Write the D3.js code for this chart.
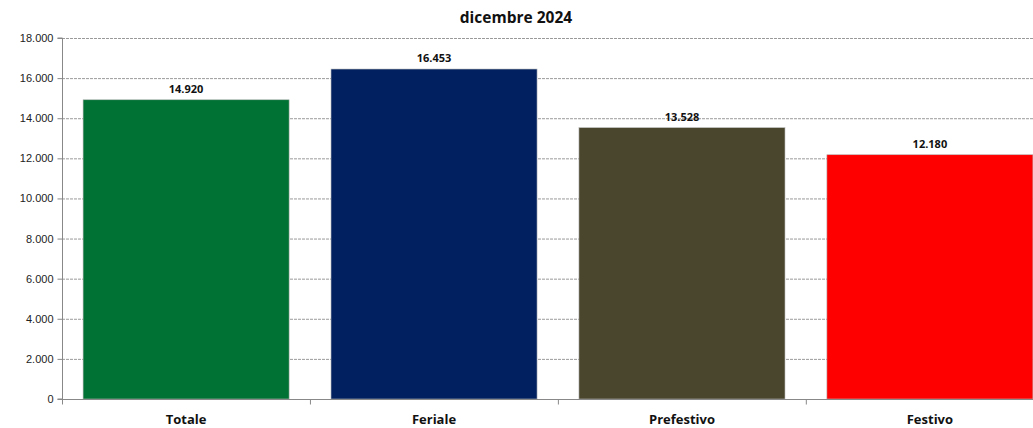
<!DOCTYPE html>
<html>
<head>
<meta charset="utf-8">
<script src="https://cdn.jsdelivr.net/npm/d3@7"></script>
<style>
body { margin: 0; background: #fff; }
svg { display: block; font-family: "Open Sans", "Noto Sans", sans-serif; }
</style>
</head>
<body>
<svg id="chart" width="1033" height="428"></svg>
<script>
// dati
const categories = ['Totale', 'Feriale', 'Prefestivo', 'Festivo'];
const values = [14920, 16453, 13528, 12180];
const colors = ['#007233', '#002060', '#4a452d', '#ff0000'];
const yTicks = [0, 2000, 4000, 6000, 8000, 10000, 12000, 14000, 16000, 18000];

const plotLeft = 62, plotRight = 1054, plotTop = 38, plotBottom = 399;

const svg = d3.select('#chart');
const fmt = v => d3.format(',')(v).replace(/,/g, '.');

const x = d3.scaleBand().domain(categories).range([plotLeft, plotRight]).paddingInner(0.169).paddingOuter(0.085);
const y = d3.scaleLinear().domain([0, 18000]).range([plotBottom, plotTop]);

// griglia
svg.append('g').selectAll('line').data(yTicks.filter(d => d > 0)).join('line')
    .attr('x1', plotLeft).attr('x2', plotRight)
    .attr('y1', d => y(d) + 0.5).attr('y2', d => y(d) + 0.5)
    .attr('stroke', '#9a9a9a').attr('stroke-dasharray', '3,1');

// asse y
const yAxis = svg.append('g').attr('transform', `translate(${plotLeft + 0.5},0)`)
    .call(d3.axisLeft(y).tickValues(yTicks).tickSize(5).tickPadding(4).tickFormat(fmt));
yAxis.select('.domain').attr('stroke', '#888').attr('d', `M-5,${plotBottom}H0V${plotTop}H-5`);
yAxis.selectAll('.tick line').attr('stroke', '#888');
yAxis.selectAll('text').attr('font-size', 11).attr('fill', '#222').attr('font-family', '"Liberation Sans", sans-serif');

// barre
svg.append('g').selectAll('rect').data(values).join('rect')
    .attr('x', (d, i) => x(categories[i]))
    .attr('y', d => y(d))
    .attr('width', x.bandwidth())
    .attr('height', d => plotBottom - y(d))
    .attr('fill', (d, i) => colors[i])
    .attr('stroke', '#b8b8b8').attr('stroke-width', 0.6);

// asse x
const step = x.step();
const xAxis = svg.append('g').attr('transform', `translate(0,${plotBottom + 0.5})`);
xAxis.append('line').attr('x1', plotLeft).attr('x2', plotRight).attr('stroke', '#888');
xAxis.selectAll('line.tk').data(d3.range(categories.length + 1)).join('line')
    .attr('class', 'tk')
    .attr('x1', i => plotLeft + i * step + 0.5).attr('x2', i => plotLeft + i * step + 0.5)
    .attr('y1', 0).attr('y2', 5).attr('stroke', '#888');
xAxis.selectAll('text').data(categories).join('text')
    .attr('x', d => x(d) + x.bandwidth() / 2)
    .attr('y', 24)
    .attr('text-anchor', 'middle')
    .attr('font-size', 13).attr('font-weight', 'bold').attr('fill', '#111')
    .text(d => d);

// etichette valori
svg.append('g').selectAll('text').data(values).join('text')
    .attr('x', (d, i) => x(categories[i]) + x.bandwidth() / 2)
    .attr('y', d => y(d) - 7)
    .attr('text-anchor', 'middle')
    .attr('font-size', 11).attr('font-weight', 'bold').attr('fill', '#111')
    .text(fmt);

// titolo
svg.append('text').attr('x', 516).attr('y', 23)
    .attr('text-anchor', 'middle')
    .attr('font-size', 15.5).attr('font-weight', 'bold').attr('fill', '#111')
    .text('dicembre 2024');
</script>
</body>
</html>
